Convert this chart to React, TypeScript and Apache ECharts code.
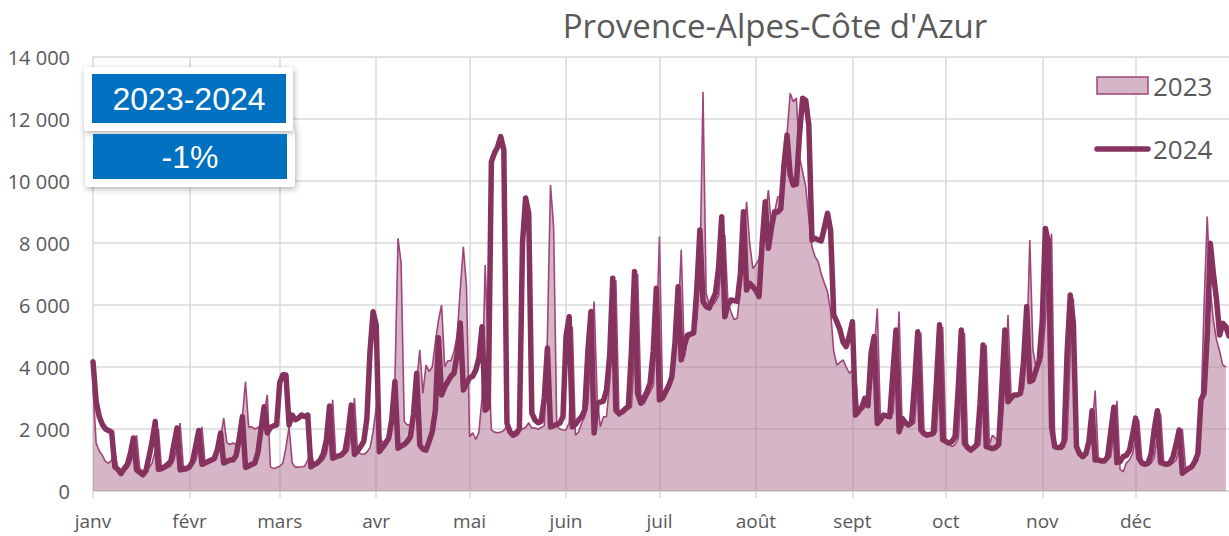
import React, { useEffect, useRef } from "react";
import * as echarts from "echarts";

const monthLabels = ["janv", "févr", "mars", "avr", "mai", "juin", "juil", "août", "sept", "oct", "nov", "déc"];
const monthStartIdx = [0, 31, 60, 91, 121, 152, 182, 213, 244, 274, 305, 335];
const yTicks = [0, 2000, 4000, 6000, 8000, 10000, 12000, 14000];

// 2024 daily values (by month)
const y2024Jan = [4170, 2900, 2400, 2150, 2000, 1950, 1900, 780, 700, 560, 720, 850, 1200, 1710, 680, 600, 520, 650, 1100, 1600, 2240, 700, 720, 780, 860, 950, 1500, 2030, 680, 700, 720];
const y2024Feb = [780, 950, 1450, 1950, 860, 900, 950, 1000, 1050, 1350, 1870, 900, 950, 1000, 1000, 1150, 1700, 2400, 760, 800, 860, 900, 1250, 2000, 2720, 1870, 2050, 2100, 2130];
const y2024Mar = [3500, 3750, 3740, 2130, 2450, 2300, 2350, 2450, 2400, 2450, 780, 840, 900, 1000, 1200, 1650, 2740, 1060, 1100, 1130, 1180, 1300, 1900, 2770, 1180, 1300, 1430, 1600, 2330, 4500, 5780];
const y2024Apr = [5350, 1270, 1400, 1540, 1700, 2300, 3530, 1380, 1450, 1500, 1600, 1750, 2500, 3800, 1480, 1350, 1320, 1600, 1910, 2600, 4940, 3100, 3350, 3530, 3700, 3800, 4400, 5420, 3260, 3450];
const y2024May = [3650, 3700, 3900, 4300, 5300, 2610, 2700, 10620, 10900, 11100, 11430, 11000, 2190, 1900, 1800, 1850, 2000, 8000, 9450, 8960, 2510, 2290, 2200, 2250, 3000, 4610, 2070, 2100, 2150, 2190, 2400];
const y2024Jun = [5000, 5620, 2070, 2150, 2290, 2400, 2610, 4500, 5790, 1870, 2830, 2870, 2900, 3260, 4360, 6860, 2600, 2500, 2550, 2650, 2720, 4500, 7080, 3150, 2830, 3000, 3200, 3480, 4500, 6540];
const y2024Jul = [2940, 3000, 3200, 3400, 3690, 4800, 6590, 4230, 4700, 5030, 5060, 5100, 6500, 8420, 6110, 5950, 5900, 6150, 6380, 7200, 8850, 5620, 6000, 6160, 6140, 6120, 7000, 9010, 6480, 6700, 6590];
const y2024Aug = [6470, 6270, 8000, 9330, 7830, 8500, 9010, 9000, 9100, 10500, 11480, 10200, 9870, 9900, 11500, 12670, 12600, 11800, 8100, 8150, 8100, 8070, 8500, 8960, 8400, 5680, 5460, 5200, 4800, 4660, 5000];
const y2024Sep = [5460, 2450, 2620, 2700, 2990, 2750, 4450, 4980, 2180, 2300, 2450, 2420, 2400, 3800, 5190, 1910, 2340, 2200, 2130, 2200, 3500, 5140, 1970, 1850, 1800, 1830, 1860, 3500, 5360, 1650];
const y2024Oct = [1600, 1540, 1600, 1750, 3300, 5190, 1540, 1400, 1320, 1400, 1500, 2800, 4710, 1430, 1400, 1370, 1400, 1500, 3300, 5190, 2880, 3000, 3100, 3100, 3150, 4200, 5950, 3530, 3580, 3900, 4200];
const y2024Nov = [5500, 8470, 7990, 2070, 1430, 1400, 1400, 1600, 4500, 6320, 5410, 1430, 1200, 1110, 1200, 1600, 2590, 1000, 1000, 970, 970, 1100, 1900, 2700, 920, 950, 1110, 1150, 1300, 1800];
const y2024Dec = [2350, 1060, 900, 860, 900, 1200, 2000, 2590, 920, 880, 860, 900, 1100, 1500, 1970, 570, 650, 720, 780, 950, 1200, 2940, 3150, 5000, 7990, 7000, 6160, 5030, 5410, 5300, 5000];

// 2023 daily values (by month, plotted by day of year)
const y2023Jan = [3360, 1550, 1300, 1150, 950, 900, 1000, 1300, 700, 650, 680, 720, 900, 1200, 1800, 720, 650, 700, 750, 900, 1300, 2000, 750, 700, 760, 800, 1000, 1400, 2190, 800, 780];
const y2023Feb = [800, 850, 1000, 1400, 2070, 900, 950, 1000, 1100, 1300, 1700, 2350, 1560, 1500, 1550, 1500, 1600, 2400, 3530, 2070, 2070, 2000, 2050, 2100, 2500, 3100, 780, 720];
const y2023Mar = [760, 800, 900, 1400, 2070, 900, 770, 770, 780, 800, 1000, 1300, 850, 900, 950, 1000, 1200, 1800, 2940, 1100, 1100, 1150, 1200, 1300, 1800, 3000, 1250, 1200, 1180, 1250, 1400];
const y2023Apr = [1900, 2700, 1700, 1600, 1500, 1700, 2500, 3500, 8150, 7350, 2240, 2130, 2150, 2400, 3500, 4550, 3150, 4060, 3850, 4000, 4800, 5500, 6000, 4010, 4200, 4200, 4500, 5000, 6500, 7880];
const y2023May = [6590, 1750, 1880, 1660, 1900, 3000, 7290, 4500, 1970, 1900, 1880, 1900, 1950, 2100, 1950, 1900, 1950, 1970, 2000, 2050, 2200, 2030, 2030, 2000, 2050, 2100, 5000, 9870, 8500, 2100, 2000];
const y2023Jun = [1970, 1970, 2200, 5300, 1800, 1900, 2190, 2400, 2800, 4500, 6110, 3000, 2070, 2390, 2400, 3500, 5500, 6800, 2400, 2500, 2550, 2650, 2700, 4500, 7000, 3100, 2800, 3000, 3200, 3400];
const y2023Jul = [5000, 8210, 3000, 3100, 3300, 3600, 4300, 5500, 7780, 4300, 4900, 5000, 5300, 5500, 7000, 12880, 6380, 6000, 6000, 6100, 6300, 7500, 8260, 6100, 5770, 5530, 5570, 6500, 8000, 9330, 8000];
const y2023Aug = [7180, 7300, 7500, 8000, 8800, 9710, 8500, 9000, 9490, 9500, 10500, 11500, 12830, 12560, 12680, 10780, 10300, 9820, 8800, 7880, 7560, 7400, 7000, 6700, 6430, 5800, 4500, 4060, 4150, 4230, 4000];
const y2023Sep = [3800, 3900, 3800, 2450, 2600, 2700, 2900, 3300, 4500, 5890, 2300, 2400, 2450, 2420, 2500, 3800, 5790, 2000, 2300, 2200, 2150, 2200, 3600, 5100, 1950, 1850, 1800, 1850, 1900, 3600];
const y2023Oct = [5300, 1650, 1550, 1430, 1500, 1700, 3300, 5100, 1500, 1400, 1350, 1400, 1500, 3000, 4700, 1500, 1800, 1700, 1600, 2000, 3500, 5680, 3000, 3100, 3050, 3100, 3300, 4500, 8100, 4550, 4000];
const y2023Nov = [4100, 4300, 5500, 7500, 8300, 1500, 1400, 1400, 1400, 1700, 4500, 6200, 1500, 1300, 1200, 1250, 1400, 2000, 3240, 1050, 1000, 950, 1000, 1100, 1900, 2910, 700, 620, 900, 1000];
const y2023Dec = [1200, 1700, 2300, 1000, 900, 880, 900, 1100, 1800, 2500, 950, 900, 880, 900, 1000, 1400, 2000, 800, 700, 800, 850, 1000, 2500, 6000, 8850, 6500, 5500, 4870, 4500, 4060, 4000];

const values2024 = [
  ...y2024Jan, ...y2024Feb, ...y2024Mar, ...y2024Apr, ...y2024May, ...y2024Jun,
  ...y2024Jul, ...y2024Aug, ...y2024Sep, ...y2024Oct, ...y2024Nov, ...y2024Dec,
];
const values2023 = [
  ...y2023Jan, ...y2023Feb, ...y2023Mar, ...y2023Apr, ...y2023May, ...y2023Jun,
  ...y2023Jul, ...y2023Aug, ...y2023Sep, ...y2023Oct, ...y2023Nov, ...y2023Dec,
];
const dayCategories = values2024.map((_, i) => String(i));

const titleText = "Provence-Alpes-Côte d'Azur";
const boxLabel = "2023-2024";
const boxValue = "-1%";
const seriesNames = ["2023", "2024"];

const C_AREA = "rgba(171,107,141,0.5)";
const C_AREA_SOLID = "#D5B6C6";
const C_THIN = "#A0457A";
const C_HEAVY = "#86325E";
const C_GRID = "#D9D9D9";
const C_TEXT = "#595959";
const FONT = "'Open Sans', 'Noto Sans', sans-serif";

const isMonthStart = (index: number) => monthStartIdx.indexOf(index) >= 0;

export default function App() {
  const ref = useRef<HTMLDivElement>(null);
  useEffect(() => {
    if (!ref.current) return;
    const chart = echarts.init(ref.current, undefined, { renderer: "svg" });
    chart.setOption({
      animation: false,
      backgroundColor: "#ffffff",
      grid: { left: 93, right: -3, top: 57, bottom: 45, containLabel: false },
      xAxis: {
        type: "category",
        data: dayCategories,
        boundaryGap: false,
        axisLine: { show: true, lineStyle: { color: C_GRID, width: 1.5 } },
        axisTick: { show: true, interval: (i: number) => isMonthStart(i), length: 7, lineStyle: { color: C_GRID, width: 1.5 } },
        axisLabel: {
          interval: (i: number) => isMonthStart(i),
          formatter: (_v: string, i: number) => {
            const m = monthStartIdx.indexOf(i);
            return m >= 0 ? monthLabels[m] : "";
          },
          color: C_TEXT,
          fontSize: 19,
          fontFamily: FONT,
          margin: 20,
          hideOverlap: false,
        },
        splitLine: { show: true, interval: (i: number) => isMonthStart(i), lineStyle: { color: C_GRID, width: 1.5 } },
      },
      yAxis: {
        type: "value",
        min: yTicks[0],
        max: yTicks[yTicks.length - 1],
        interval: 2000,
        axisLine: { show: false },
        axisTick: { show: false },
        axisLabel: {
          formatter: (v: number) => (v === 0 ? "0" : `${Math.round(v / 1000)} 000`),
          color: C_TEXT,
          fontSize: 20,
          fontFamily: FONT,
          margin: 23,
        },
        splitLine: { show: true, lineStyle: { color: C_GRID, width: 1.5 } },
      },
      series: [
        {
          name: seriesNames[0],
          type: "line",
          data: values2023,
          symbol: "none",
          lineStyle: { color: C_THIN, width: 1.6 },
          areaStyle: { color: C_AREA, opacity: 1 },
          z: 2,
        },
        {
          name: seriesNames[1],
          type: "line",
          data: values2024,
          symbol: "none",
          lineStyle: { color: C_HEAVY, width: 5.5, cap: "round", join: "round" },
          z: 3,
        },
      ],
      graphic: [
        {
          type: "text",
          x: 775,
          y: 9,
          style: { text: titleText, font: `33px ${FONT}`, fill: C_TEXT, align: "center" },
        },
        // annotation boxes
        {
          type: "rect",
          shape: { x: 84, y: 67, width: 209, height: 64, r: 3 },
          style: { fill: "#ffffff", shadowBlur: 6, shadowColor: "rgba(0,0,0,0.3)", shadowOffsetX: 1, shadowOffsetY: 2 },
          z: 10,
        },
        {
          type: "rect",
          shape: { x: 92, y: 74, width: 194, height: 49 },
          style: { fill: "#0070C0" },
          z: 11,
        },
        {
          type: "text",
          x: 189,
          y: 99,
          style: { text: boxLabel, font: "32px 'Liberation Sans', Arial, sans-serif", fill: "#ffffff", align: "center", verticalAlign: "middle" },
          z: 12,
        },
        {
          type: "rect",
          shape: { x: 85, y: 127, width: 210, height: 60, r: 3 },
          style: { fill: "#ffffff", shadowBlur: 6, shadowColor: "rgba(0,0,0,0.3)", shadowOffsetX: 1, shadowOffsetY: 2 },
          z: 9,
        },
        {
          type: "rect",
          shape: { x: 93, y: 134, width: 194, height: 45 },
          style: { fill: "#0070C0" },
          z: 11,
        },
        {
          type: "text",
          x: 190,
          y: 157,
          style: { text: boxValue, font: "32px 'Liberation Sans', Arial, sans-serif", fill: "#ffffff", align: "center", verticalAlign: "middle" },
          z: 12,
        },
        // legend
        {
          type: "rect",
          shape: { x: 1097, y: 77, width: 51, height: 17 },
          style: { fill: C_AREA_SOLID, stroke: C_THIN, lineWidth: 1.5 },
          z: 10,
        },
        {
          type: "text",
          x: 1153,
          y: 86,
          style: { text: seriesNames[0], font: `26px ${FONT}`, fill: C_TEXT, verticalAlign: "middle" },
          z: 10,
        },
        {
          type: "line",
          shape: { x1: 1097, y1: 149, x2: 1148, y2: 149 },
          style: { stroke: C_HEAVY, lineWidth: 5.5, lineCap: "round" },
          z: 10,
        },
        {
          type: "text",
          x: 1153,
          y: 149,
          style: { text: seriesNames[1], font: `26px ${FONT}`, fill: C_TEXT, verticalAlign: "middle" },
          z: 10,
        },
      ],
    });
    return () => chart.dispose();
  }, []);
  return <div ref={ref} style={{ position: "fixed", left: 0, top: 0, width: 1229, height: 536 }} />;
}
